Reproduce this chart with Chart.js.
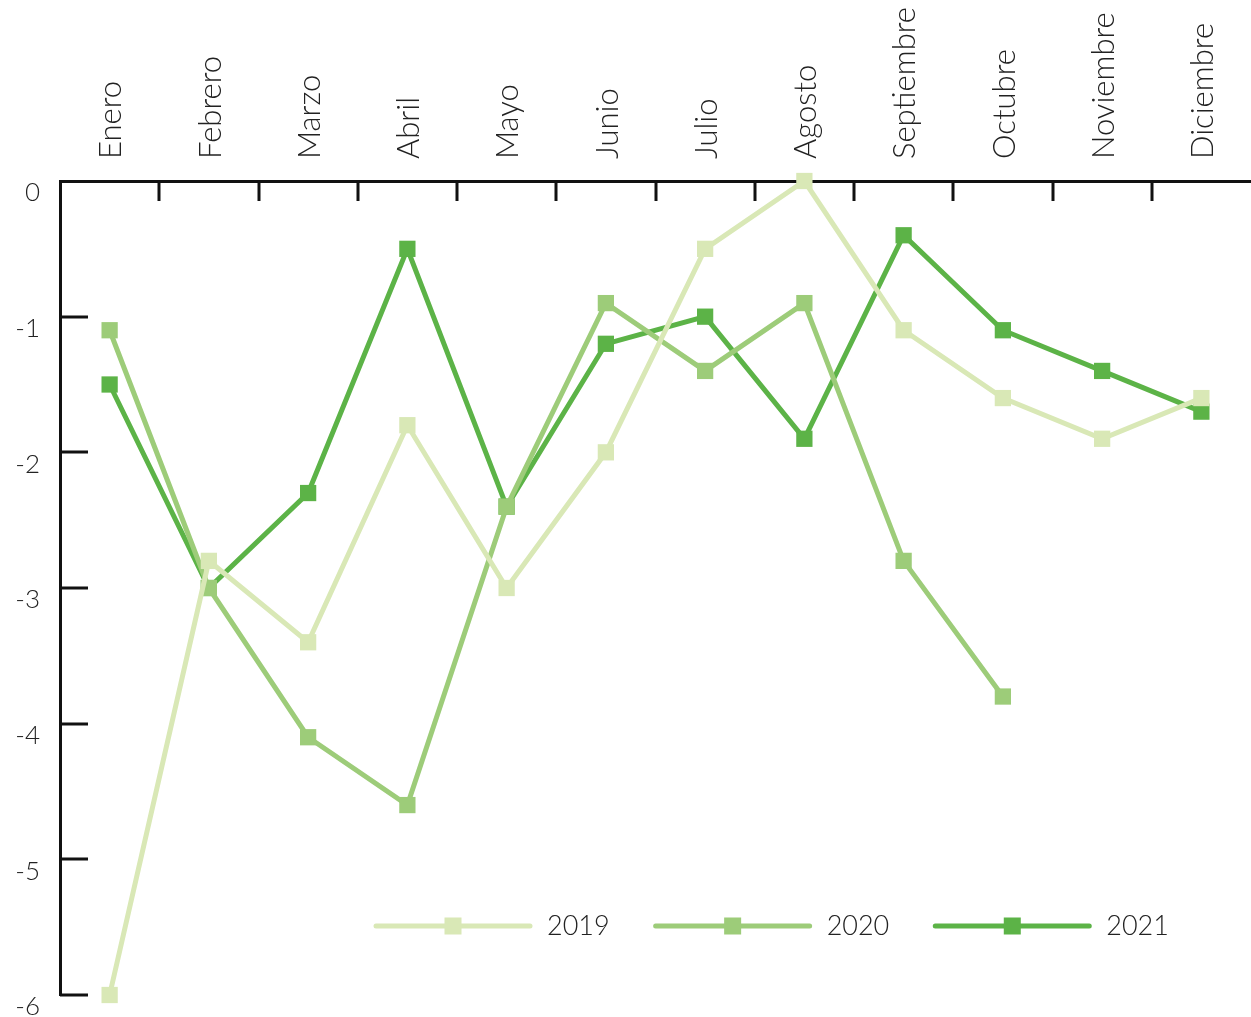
<!DOCTYPE html>
<html>
<head>
<meta charset="utf-8">
<script src="https://cdn.jsdelivr.net/npm/chart.js@4.4.0/dist/chart.umd.min.js"></script>
<style>
  html, body { margin: 0; padding: 0; background: #fff; }
  canvas { display: block; }
</style>
</head>
<body>
<canvas id="chart" width="1251" height="1017"></canvas>
<script>
// Meses
const meses = ['Enero', 'Febrero', 'Marzo', 'Abril', 'Mayo', 'Junio', 'Julio',
    'Agosto', 'Septiembre', 'Octubre', 'Noviembre', 'Diciembre'];

// Valores por año
const serie2019 = [-6, -2.8, -3.4, -1.8, -3, -2, -0.5, 0, -1.1, -1.6, -1.9, -1.6];
const serie2020 = [-1.1, -3, -4.1, -4.6, -2.4, -0.9, -1.4, -0.9, -2.8, -3.8, null, null];
const serie2021 = [-1.5, -3, -2.3, -0.5, -2.4, -1.2, -1, -1.9, -0.4, -1.1, -1.4, -1.7];

const yMin = -6;
const yMax = 0;

const colores = { '2019': '#d9e8b6', '2020': '#9dcc79', '2021': '#5cb347' };
const fuente = "Lato, 'Open Sans', sans-serif";

function serie(label, data) {
    return {
        label: label,
        data: data,
        borderColor: colores[label],
        backgroundColor: colores[label],
        borderWidth: 5,
        pointStyle: 'rect',
        pointRadius: 11.5,
        pointBorderWidth: 0,
        pointBackgroundColor: colores[label],
        tension: 0,
        spanGaps: false,
        clip: false
    };
}

// marcas de los ejes hacia dentro + leyenda dentro del área
const extras = {
    id: 'extras',
    beforeDatasetsDraw(chart) {
        const ctx = chart.ctx;
        const y = chart.scales.y;
        const area = chart.chartArea;
        ctx.save();
        ctx.strokeStyle = '#111';
        ctx.lineWidth = 3;
        ctx.beginPath();
        const paso = (area.right - area.left) / meses.length;
        for (let i = 1; i < meses.length; i++) {
            const px = Math.round(area.left + i * paso);
            ctx.moveTo(px, area.top);
            ctx.lineTo(px, area.top + 20);
        }
        for (let v = yMax - 1; v >= yMin; v--) {
            const py = Math.round(y.getPixelForValue(v));
            ctx.moveTo(area.left, py);
            ctx.lineTo(area.left + 28, py);
        }
        ctx.stroke();
        ctx.restore();
    },
    afterDraw(chart) {
        const ctx = chart.ctx;
        ctx.save();
        ctx.font = '300 27px ' + fuente;
        ctx.textBaseline = 'middle';
        ctx.textAlign = 'left';
        let cx = 376;
        const cy = 926;
        chart.data.datasets.forEach(ds => {
            ctx.strokeStyle = ds.borderColor;
            ctx.lineWidth = 5;
            ctx.lineCap = 'round';
            ctx.beginPath();
            ctx.moveTo(cx, cy);
            ctx.lineTo(cx + 154, cy);
            ctx.stroke();
            ctx.fillStyle = ds.borderColor;
            ctx.fillRect(cx + 77 - 8.5, cy - 8.5, 17, 17);
            ctx.fillStyle = '#222';
            ctx.fillText(ds.label, cx + 171, cy);
            cx += 171 + ctx.measureText(ds.label).width + 46;
        });
        ctx.restore();
    }
};

new Chart(document.getElementById('chart'), {
    type: 'line',
    data: {
        labels: meses,
        datasets: [
            serie('2019', serie2019),
            serie('2020', serie2020),
            serie('2021', serie2021)
        ]
    },
    options: {
        responsive: false,
        animation: false,
        events: [],
        layout: { autoPadding: false, padding: { top: 0, left: 0, right: 0, bottom: 22 } },
        plugins: {
            legend: { display: false },
            tooltip: { enabled: false }
        },
        scales: {
            x: {
                position: 'top',
                offset: true,
                grid: { display: false, drawTicks: false },
                border: { display: true, color: '#111', width: 3 },
                ticks: {
                    autoSkip: false,
                    minRotation: 90,
                    maxRotation: 90,
                    padding: 22,
                    labelOffset: 39,
                    color: '#222',
                    font: { family: fuente, size: 31, weight: 300 }
                },
                afterFit(scale) {
                    scale.height = 181;
                    scale.paddingLeft = 0;
                    scale.paddingRight = 0;
                }
            },
            y: {
                min: yMin,
                max: yMax,
                grid: { display: false, drawTicks: false },
                border: { display: true, color: '#111', width: 3 },
                ticks: {
                    stepSize: 1,
                    padding: 20,
                    labelOffset: 12,
                    color: '#222',
                    font: { family: fuente, size: 26, weight: 300 }
                },
                afterFit(scale) {
                    scale.width = 60;
                    scale.paddingTop = 0;
                    scale.paddingBottom = 0;
                }
            }
        }
    },
    plugins: [extras]
});
</script>
</body>
</html>
